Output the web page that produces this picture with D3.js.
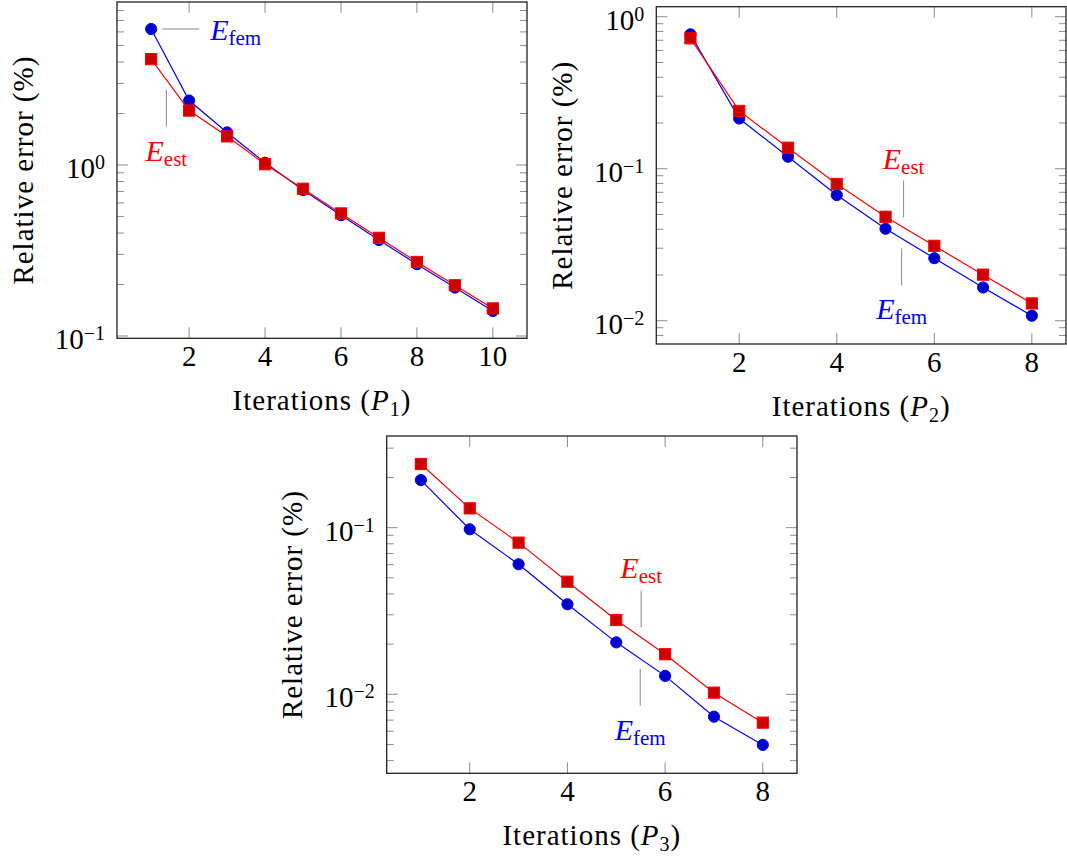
<!DOCTYPE html>
<html>
<head>
<meta charset="utf-8">
<script src="https://cdn.jsdelivr.net/npm/d3@7"></script>
<style>
  body { margin: 0; background: #fff; }
  svg { display: block; font-family: "Liberation Serif", "DejaVu Serif", serif; }
</style>
</head>
<body>
<div id="chart"></div>
<script>
// Datos
var iters1 = [1, 2, 3, 4, 5, 6, 7, 8, 9, 10];
var fem1 = [6.24, 2.38, 1.55, 1.03, 0.714, 0.509, 0.364, 0.263, 0.192, 0.140];
var est1 = [4.16, 2.08, 1.47, 1.01, 0.726, 0.521, 0.375, 0.271, 0.198, 0.145];

var iters2 = [1, 2, 3, 4, 5, 6, 7, 8];
var fem2 = [0.766, 0.214, 0.120, 0.0671, 0.0403, 0.0258, 0.01655, 0.01079];
var est2 = [0.721, 0.240, 0.1375, 0.0794, 0.0483, 0.0311, 0.0201, 0.0130];

var iters3 = [1, 2, 3, 4, 5, 6, 7, 8];
var fem3 = [0.193, 0.0978, 0.0603, 0.0347, 0.0205, 0.0129, 0.00734, 0.00497];
var est3 = [0.241, 0.1306, 0.0813, 0.0474, 0.0279, 0.0174, 0.01023, 0.00676];

var xTicks1 = [2, 4, 6, 8, 10];
var xTicks23 = [2, 4, 6, 8];
var yLabel = "Relative error (%)";
var xLabels = ["1", "2", "3"];

var W = 1067, H = 856;
var svg = d3.select("#chart").append("svg").attr("width", W).attr("height", H);
svg.append("rect").attr("width", W).attr("height", H).attr("fill", "#fff");

var panels = [
  { left: 117, right: 527, top: 2, bottom: 338.3, xd: [0.1, 10.9], yd: [-1.0135, 0.953],
    x: iters1, fem: fem1, est: est1, xt: xTicks1, sub: xLabels[0],
    notes: [{ s: "fem", at: 1, dir: "right" }, { s: "est", at: 1.4, dir: "down" }] },
  { left: 656.3, right: 1066, top: 6.7, bottom: 344, xd: [0.3, 8.7], yd: [-2.153, 0.066],
    x: iters2, fem: fem2, est: est2, xt: xTicks23, sub: xLabels[1],
    notes: [{ s: "est", at: 5.37, dir: "up" }, { s: "fem", at: 5.33, dir: "down" }] },
  { left: 386.7, right: 797, top: 436, bottom: 773.3, xd: [0.3, 8.7], yd: [-2.474, -0.45],
    x: iters3, fem: fem3, est: est3, xt: xTicks23, sub: xLabels[2],
    notes: [{ s: "est", at: 5.51, dir: "up" }, { s: "fem", at: 5.49, dir: "down" }] }
];

var tickGray = "#8c8c8c";

panels.forEach(function(p) {
  var x = d3.scaleLinear().domain(p.xd).range([p.left, p.right]);
  var y = d3.scaleLog().domain([Math.pow(10, p.yd[0]), Math.pow(10, p.yd[1])]).range([p.bottom, p.top]);
  var g = svg.append("g");

  // minor y ticks (2..9 x 10^k), both sides
  var minors = [], majors = [];
  for (var k = Math.floor(p.yd[0]); k <= Math.ceil(p.yd[1]); k++) {
    var base = Math.pow(10, k);
    if (k >= p.yd[0] && k <= p.yd[1]) majors.push(base);
    for (var m = 2; m <= 9; m++) {
      var v = m * base;
      if (Math.log10(v) > p.yd[0] && Math.log10(v) < p.yd[1]) minors.push(v);
    }
  }
  minors.forEach(function(v) {
    g.append("line").attr("x1", p.left).attr("x2", p.left + 7).attr("y1", y(v)).attr("y2", y(v))
      .attr("stroke", tickGray).attr("stroke-width", 1);
    g.append("line").attr("x1", p.right).attr("x2", p.right - 7).attr("y1", y(v)).attr("y2", y(v))
      .attr("stroke", tickGray).attr("stroke-width", 1);
  });
  majors.forEach(function(v) {
    g.append("line").attr("x1", p.left).attr("x2", p.left + 11).attr("y1", y(v)).attr("y2", y(v))
      .attr("stroke", tickGray).attr("stroke-width", 1);
    g.append("line").attr("x1", p.right).attr("x2", p.right - 11).attr("y1", y(v)).attr("y2", y(v))
      .attr("stroke", tickGray).attr("stroke-width", 1);
    var e = Math.round(Math.log10(v));
    var t = g.append("text").attr("x", p.left - 12).attr("y", y(v) + 13)
      .attr("text-anchor", "end").attr("font-size", 29).attr("fill", "#000");
    t.append("tspan").text("10");
    t.append("tspan").attr("dy", -9).attr("font-size", 20).text(e < 0 ? "\u2212" + (-e) : String(e));
  });

  // x ticks, bottom and top
  p.xt.forEach(function(v) {
    g.append("line").attr("x1", x(v)).attr("x2", x(v)).attr("y1", p.bottom).attr("y2", p.bottom - 11)
      .attr("stroke", tickGray).attr("stroke-width", 1);
    g.append("line").attr("x1", x(v)).attr("x2", x(v)).attr("y1", p.top).attr("y2", p.top + 11)
      .attr("stroke", tickGray).attr("stroke-width", 1);
    g.append("text").attr("x", x(v)).attr("y", p.bottom + 28).attr("text-anchor", "middle")
      .attr("font-size", 29).attr("fill", "#000").text(v);
  });

  // marco
  g.append("rect").attr("x", p.left).attr("y", p.top)
    .attr("width", p.right - p.left).attr("height", p.bottom - p.top)
    .attr("fill", "none").attr("stroke", "#222").attr("stroke-width", 1.3);

  // etiquetas de ejes
  var xl = g.append("text").attr("x", (p.left + p.right) / 2).attr("y", p.bottom + 72)
    .attr("text-anchor", "middle").attr("font-size", 29).attr("fill", "#000")
    .attr("letter-spacing", 1);
  xl.append("tspan").text("Iterations (");
  xl.append("tspan").attr("font-style", "italic").text("P");
  xl.append("tspan").attr("dy", 6).attr("font-size", 20).text(p.sub);
  xl.append("tspan").attr("dy", -6).text(")");

  g.append("text")
    .attr("transform", "translate(" + (p.left - 84.5) + "," + ((p.top + p.bottom) / 2) + ") rotate(-90)")
    .attr("text-anchor", "middle").attr("font-size", 29).attr("fill", "#000")
    .attr("letter-spacing", 1).text(yLabel);

  // lineas
  var line = d3.line().x(function(d) { return x(d[0]); }).y(function(d) { return y(d[1]); });
  var femPts = p.x.map(function(v, i) { return [v, p.fem[i]]; });
  var estPts = p.x.map(function(v, i) { return [v, p.est[i]]; });

  g.append("path").datum(femPts).attr("d", line).attr("fill", "none")
    .attr("stroke", "#0000ff").attr("stroke-width", 1.2);
  g.selectAll(".femMark").data(femPts).enter().append("circle")
    .attr("cx", function(d) { return x(d[0]); }).attr("cy", function(d) { return y(d[1]); })
    .attr("r", 5.6).attr("fill", "#0000cc").attr("stroke", "#0000ff").attr("stroke-width", 1);

  g.append("path").datum(estPts).attr("d", line).attr("fill", "none")
    .attr("stroke", "#ff0000").attr("stroke-width", 1.2);
  g.selectAll(".estMark").data(estPts).enter().append("rect")
    .attr("x", function(d) { return x(d[0]) - 5.6; }).attr("y", function(d) { return y(d[1]) - 5.6; })
    .attr("width", 11.2).attr("height", 11.2)
    .attr("fill", "#cc0000").attr("stroke", "#ff0000").attr("stroke-width", 1);

  // pines con etiquetas
  p.notes.forEach(function(n) {
    var vals = n.s === "fem" ? p.fem : p.est;
    var color = n.s === "fem" ? "#0000ff" : "#ff0000";
    var i0 = Math.min(Math.floor(n.at) - 1, p.x.length - 2);
    var f = n.at - p.x[i0];
    var ay = y(vals[i0]) + f * (y(vals[i0 + 1]) - y(vals[i0]));
    var ax = x(n.at);
    var lx1, ly1, lx2, ly2, tx, ty, anchor;
    if (n.dir === "right") {
      lx1 = ax + 11; lx2 = ax + 48; ly1 = ly2 = ay;
      tx = ax + 59; ty = ay + 11; anchor = "start";
    } else if (n.dir === "down") {
      lx1 = lx2 = ax; ly1 = ay + 10; ly2 = ay + 47;
      tx = ax; ty = ay + 81; anchor = "middle";
    } else {
      lx1 = lx2 = ax; ly1 = ay - 10; ly2 = ay - 47;
      tx = ax; ty = ay - 59; anchor = "middle";
    }
    g.append("line").attr("x1", lx1).attr("y1", ly1).attr("x2", lx2).attr("y2", ly2)
      .attr("stroke", "#888").attr("stroke-width", 1);
    var t = g.append("text").attr("x", tx).attr("y", ty).attr("text-anchor", anchor)
      .attr("font-size", 30).attr("fill", color);
    t.append("tspan").attr("font-style", "italic").text("E");
    t.append("tspan").attr("dy", 5).attr("font-size", 21).text(n.s);
  });
});
</script>
</body>
</html>
